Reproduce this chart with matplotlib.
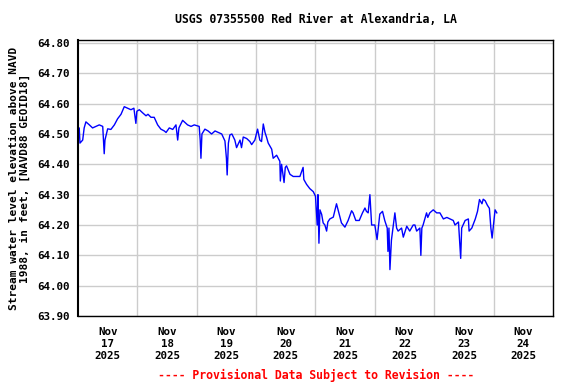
import matplotlib
matplotlib.use("Agg")
import matplotlib.pyplot as plt
import numpy as np

# hours since Nov 17 2025 00:00, and gage height (ft)
hours = [0, 0.5, 0.8, 1.9, 2.5, 3.2, 4.6, 5.9, 7.3, 8.6, 10.0, 10.6, 10.9, 12.0, 13.3,
         14.7, 16.0, 17.4, 18.7, 20.1, 21.4, 22.6, 23.4, 23.8, 24.8, 26.1, 27.5, 28.3,
         29.5, 30.8, 32.2, 33.5, 34.9, 35.6, 36.9, 38.3, 39.6, 40.3, 40.8, 42.3, 44.3,
         45.7, 47.0, 49.0, 49.4, 49.7, 50.1, 51.3, 52.6, 54.0, 55.4, 56.7, 58.1, 59.4,
         60.0, 60.3, 60.8, 61.4, 62.2, 63.4, 64.1, 65.5, 66.1, 66.8, 68.2, 69.5, 70.2,
         71.5, 72.6, 73.5, 74.2, 74.9, 75.6, 76.2, 76.9, 78.3, 78.9, 80.3, 81.6, 81.8,
         82.3, 83.3, 83.8, 84.3, 85.7, 87.0, 88.4, 89.7, 91.0, 91.3, 92.4, 93.7, 95.1,
         96.0, 96.7, 97.0, 97.4, 97.8, 98.5, 99.1, 99.8, 100.5, 101.0, 101.8, 103.2,
         104.5, 105.6, 106.5, 107.9, 109.2, 110.6, 111.2, 112.3, 113.7, 115.0, 116.0,
         116.6, 117.3, 118.0, 118.7, 120.0, 120.9, 122.0, 123.1, 124.0, 125.0, 125.3,
         125.7, 126.1, 126.7, 128.1, 128.8, 129.4, 130.8, 131.5, 132.9, 134.1, 135.5,
         136.2, 136.9, 138.2, 138.6, 139.0, 139.5, 140.9, 141.4, 142.2, 143.6, 145.0,
         146.3, 147.7, 149.1, 150.4, 151.7, 152.4, 153.8, 154.7, 155.1, 156.5, 157.8,
         158.1, 159.2, 160.6, 161.5, 162.3, 163.3, 163.8, 164.6, 165.5, 166.3, 166.9,
         167.4, 168.2, 168.6, 169.3]
stage = [64.49, 64.52, 64.47, 64.48, 64.52, 64.54, 64.53, 64.52, 64.525, 64.53, 64.525,
         64.435, 64.48, 64.517, 64.515, 64.53, 64.55, 64.565, 64.59, 64.585, 64.58,
         64.585, 64.535, 64.575, 64.58, 64.57, 64.56, 64.565, 64.555, 64.555, 64.53,
         64.516, 64.51, 64.505, 64.52, 64.515, 64.53, 64.48, 64.52, 64.545, 64.53,
         64.525, 64.53, 64.525, 64.48, 64.42, 64.50, 64.516, 64.51, 64.50, 64.51,
         64.505, 64.50, 64.477, 64.42, 64.365, 64.47, 64.497, 64.50, 64.48, 64.455,
         64.48, 64.455, 64.49, 64.485, 64.475, 64.465, 64.48, 64.516, 64.48, 64.475,
         64.533, 64.505, 64.49, 64.47, 64.45, 64.42, 64.43, 64.41, 64.345, 64.40,
         64.34, 64.39, 64.395, 64.367, 64.36, 64.36, 64.36, 64.39, 64.35, 64.334,
         64.32, 64.31, 64.295, 64.20, 64.30, 64.14, 64.25, 64.235, 64.207, 64.20,
         64.18, 64.21, 64.22, 64.226, 64.27, 64.235, 64.207, 64.193, 64.215, 64.247,
         64.24, 64.215, 64.215, 64.24, 64.256, 64.245, 64.24, 64.30, 64.20, 64.20,
         64.152, 64.236, 64.245, 64.215, 64.19, 64.113, 64.19, 64.053, 64.15, 64.24,
         64.19, 64.18, 64.19, 64.16, 64.196, 64.18, 64.20, 64.20, 64.18, 64.19, 64.10,
         64.19, 64.20, 64.24, 64.225, 64.24, 64.25, 64.24, 64.24, 64.22, 64.225, 64.22,
         64.215, 64.20, 64.21, 64.09, 64.19, 64.215, 64.22, 64.18, 64.19, 64.22, 64.245,
         64.284, 64.27, 64.285, 64.28, 64.265, 64.255, 64.19, 64.157, 64.22, 64.25, 64.24]

day_labels = ["Nov\n17\n2025", "Nov\n18\n2025", "Nov\n19\n2025", "Nov\n20\n2025",
              "Nov\n21\n2025", "Nov\n22\n2025", "Nov\n23\n2025", "Nov\n24\n2025"]
y_ticks = [63.90, 64.00, 64.10, 64.20, 64.30, 64.40, 64.50, 64.60, 64.70, 64.80]

font = {"family": "DejaVu Sans Mono", "weight": "bold"}

fig = plt.figure(figsize=(5.76, 3.84), dpi=100)
ax = fig.add_axes([0.1354, 0.177, 0.8246, 0.719])

ax.plot(hours, stage, color="#0000ff", linewidth=1)

ax.set_xlim(0, 192)
ax.set_ylim(63.90, 64.81)

ax.set_xticks([12 + 24 * i for i in range(8)])
ax.set_xticklabels(day_labels, fontdict=font, fontsize=7.8, linespacing=1.25)
ax.set_xticks([24 * i for i in range(1, 8)], minor=True)
ax.set_yticks(y_ticks)
ax.set_yticklabels(["%.2f" % v for v in y_ticks], fontdict=font, fontsize=7.8)

ax.grid(False)
ax.grid(True, which="minor", axis="x", color="#cccccc", linewidth=1)
ax.grid(True, which="major", axis="y", color="#cccccc", linewidth=1)
ax.tick_params(which="both", length=0)
ax.tick_params(axis="x", pad=8)
ax.tick_params(axis="y", pad=6)

for s in ax.spines.values():
    s.set_color("black")
    s.set_linewidth(1)
ax.spines["left"].set_linewidth(1.5)

ax.set_ylabel("Stream water level elevation above NAVD\n1988, in feet, [NAVD88 GEOID18]",
              fontdict=font, fontsize=8.0, linespacing=1.1)
ax.yaxis.set_label_coords(-0.1, 0.497)

fig.text(0.548, 0.95, "USGS 07355500 Red River at Alexandria, LA", ha="center", va="center",
         fontdict=font, fontsize=8.3)
fig.text(0.548, 0.023, "---- Provisional Data Subject to Revision ----", ha="center",
         va="center", color="red", fontdict=font, fontsize=8.3)

fig.savefig("out.png", dpi=100)
